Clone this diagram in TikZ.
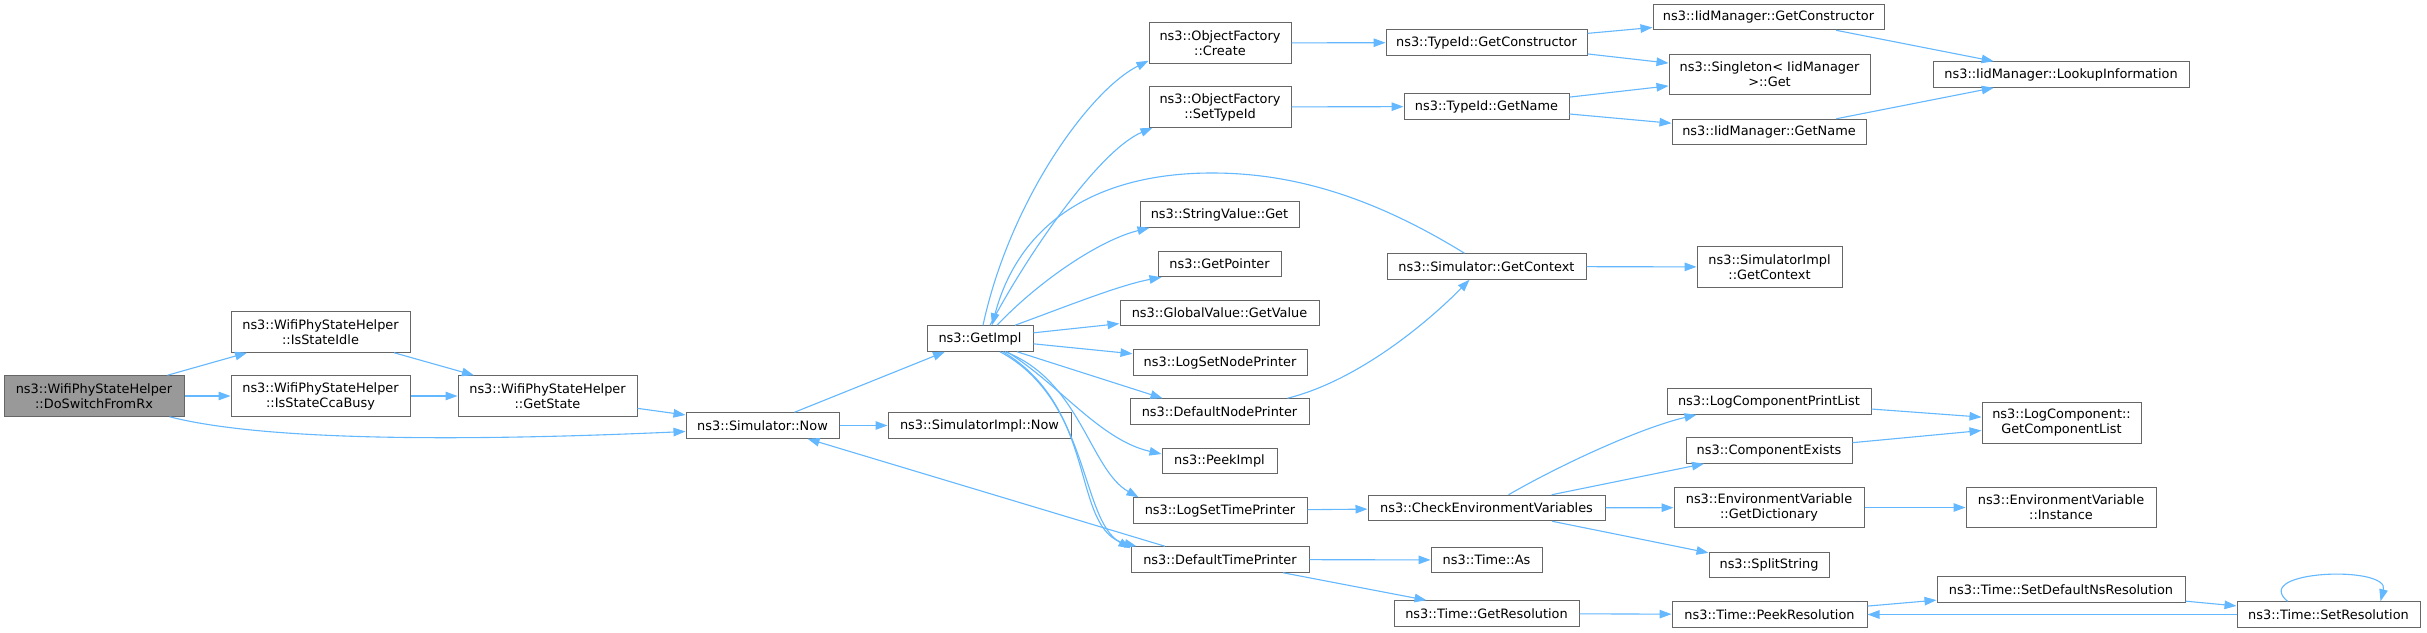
\documentclass[tikz,border=0pt]{standalone}
\usepackage{fontspec}
\setmainfont{DejaVu Sans}
\usepackage{tikz}
\usetikzlibrary{arrows.meta}
\definecolor{boxedge}{HTML}{666666}
\definecolor{curgray}{HTML}{999999}
\definecolor{calledge}{HTML}{63B8FF}
\begin{document}
\begin{tikzpicture}[x=1pt,y=-1pt]
\tikzset{fn/.style={draw=boxedge, fill=white, line width=1pt, minimum height=25.5pt, inner sep=2pt, align=center, font=\fontsize{12.9}{15}\selectfont}}
\tikzset{fn2/.style={fn, minimum height=40.5pt}}
\tikzset{cur/.style={fill=curgray}}
\tikzset{call/.style={draw=calledge, line width=1.1pt, -{Triangle[length=12pt,width=8.5pt]}}}
\useasboundingbox[fill=white] (0,0) rectangle (2427,632);
\node[fn2, cur, minimum width=180pt] (rx) at (94,396) {ns3::WifiPhyStateHelper\\::DoSwitchFromRx};
\node[fn2, minimum width=179pt] (idle) at (320.5,332) {ns3::WifiPhyStateHelper\\::IsStateIdle};
\node[fn2, minimum width=179pt] (cca) at (320.5,396) {ns3::WifiPhyStateHelper\\::IsStateCcaBusy};
\node[fn2, minimum width=179pt] (getstate) at (547.5,396) {ns3::WifiPhyStateHelper\\::GetState};
\node[fn, minimum width=153pt] (now) at (762.5,425.5) {ns3::Simulator::Now};
\node[fn, minimum width=183pt] (implnow) at (979.5,425.5) {ns3::SimulatorImpl::Now};
\node[fn, minimum width=106pt] (getimpl) at (980,338.5) {ns3::GetImpl};
\node[fn2, minimum width=142pt] (create) at (1220,43) {ns3::ObjectFactory\\::Create};
\node[fn2, minimum width=142pt] (settype) at (1220,107) {ns3::ObjectFactory\\::SetTypeId};
\node[fn, minimum width=159pt] (strget) at (1219.5,214.5) {ns3::StringValue::Get};
\node[fn, minimum width=123pt] (getptr) at (1219.5,264) {ns3::GetPointer};
\node[fn, minimum width=199pt] (gvget) at (1219.5,313) {ns3::GlobalValue::GetValue};
\node[fn, minimum width=174pt] (lsnp) at (1220,362.5) {ns3::LogSetNodePrinter};
\node[fn, minimum width=179pt] (dnp) at (1219.5,411.5) {ns3::DefaultNodePrinter};
\node[fn, minimum width=115pt] (peek) at (1219.5,461) {ns3::PeekImpl};
\node[fn, minimum width=174pt] (lstp) at (1220,510.5) {ns3::LogSetTimePrinter};
\node[fn, minimum width=178pt] (dtp) at (1220,559.5) {ns3::DefaultTimePrinter};
\node[fn, minimum width=201pt] (tgetctor) at (1486.5,42.5) {ns3::TypeId::GetConstructor};
\node[fn, minimum width=165pt] (tgetname) at (1486.5,106.5) {ns3::TypeId::GetName};
\node[fn, minimum width=199pt] (simctx) at (1486.5,266.5) {ns3::Simulator::GetContext};
\node[fn, minimum width=237pt] (cev) at (1486.5,508) {ns3::CheckEnvironmentVariables};
\node[fn, minimum width=111pt] (tas) at (1486.5,560) {ns3::Time::As};
\node[fn, minimum width=185pt] (tgetres) at (1486.5,613.5) {ns3::Time::GetResolution};
\node[fn, minimum width=231pt] (igetctor) at (1768.5,17) {ns3::IidManager::GetConstructor};
\node[fn2, minimum width=201pt] (single) at (1769.5,74.5) {ns3::Singleton< IidManager\\ >::Get};
\node[fn, minimum width=194pt] (igetname) at (1769,132) {ns3::IidManager::GetName};
\node[fn2, minimum width=145pt] (implctx) at (1769.5,267) {ns3::SimulatorImpl\\::GetContext};
\node[fn, minimum width=204pt] (lcpl) at (1769,401.5) {ns3::LogComponentPrintList};
\node[fn, minimum width=166pt] (cexists) at (1769,450.5) {ns3::ComponentExists};
\node[fn2, minimum width=190pt] (getdict) at (1769,507.5) {ns3::EnvironmentVariable\\::GetDictionary};
\node[fn, minimum width=120pt] (split) at (1769,565) {ns3::SplitString};
\node[fn, minimum width=195pt] (peekres) at (1769.5,614.5) {ns3::Time::PeekResolution};
\node[fn, minimum width=256pt] (lookup) at (2061,74.5) {ns3::IidManager::LookupInformation};
\node[fn2, minimum width=159pt] (getcl) at (2061.5,423) {ns3::LogComponent::\\GetComponentList};
\node[fn2, minimum width=190pt] (instance) at (2061,507.5) {ns3::EnvironmentVariable\\::Instance};
\node[fn, minimum width=248pt] (setdefns) at (2061,589.5) {ns3::Time::SetDefaultNsResolution};
\node[fn, minimum width=183pt] (setres) at (2328.5,614.5) {ns3::Time::SetResolution};
\draw[call] (rx) -- (idle);
\draw[call] (rx) -- (cca);
\draw[call] ([xshift=-15pt]rx.south east) .. controls (260,440) and (450,442) .. ([yshift=-6pt]now.west);
\draw[call] (idle) -- (getstate);
\draw[call] (cca) -- (getstate);
\draw[call] (getstate) -- (now);
\draw[call] ([xshift=32pt]now.north) -- ([xshift=-35pt]getimpl.south);
\draw[call] (now) -- (implnow);
\draw[call] ([xshift=3pt]getimpl.north) .. controls (1010,200) and (1090,90) .. ([yshift=3pt]create.south west);
\draw[call] ([xshift=10pt]getimpl.north) .. controls (1030,250) and (1100,150) .. ([xshift=4pt]settype.south west);
\draw[call] ([xshift=-22pt]simctx.north) .. controls (1370,195) and (1290,173) .. (1212,173) .. controls (1100,173) and (1020,220) .. ([xshift=12pt]getimpl.north);
\draw[call] ([xshift=17pt]getimpl.north) .. controls (1040,280) and (1100,240) .. ([xshift=10pt]strget.south west);
\draw[call] ([xshift=35pt]getimpl.north) .. controls (1070,305) and (1120,285) .. ([xshift=4pt]getptr.south west);
\draw[call] (getimpl) -- (gvget);
\draw[call] (getimpl) -- (lsnp);
\draw[call] ([xshift=37pt]getimpl.south) -- ([xshift=33pt]dnp.north west);
\draw[call] ([xshift=27pt]getimpl.south) .. controls (1060,385) and (1100,440) .. ([yshift=7pt]peek.west);
\draw[call] ([xshift=25pt]getimpl.south) .. controls (1080,380) and (1090,470) .. ([xshift=6pt]lstp.north west);
\draw[call] ([xshift=20pt]getimpl.south) .. controls (1090,400) and (1080,520) .. ([yshift=-2pt]dtp.north west);
\draw[call] ([xshift=23pt]getimpl.south) .. controls (1100,410) and (1070,530) .. ([xshift=6pt]dtp.north west);
\draw[call] ([xshift=-55pt]dtp.north) -- ([xshift=45pt]now.south);
\draw[call] ([xshift=68pt]dnp.north) .. controls (1360,380) and (1430,320) .. ([xshift=-17pt]simctx.south);
\draw[call] (lstp) -- (cev);
\draw[call] (dtp) -- (tas);
\draw[call] ([xshift=63pt]dtp.south) -- ([xshift=-60pt]tgetres.north);
\draw[call] (create) -- (tgetctor);
\draw[call] (settype) -- (tgetname);
\draw[call] (tgetctor) -- (igetctor);
\draw[call] (tgetctor) -- (single);
\draw[call] (tgetname) -- (single);
\draw[call] (tgetname) -- (igetname);
\draw[call] (igetctor) -- (lookup);
\draw[call] (igetname) -- (lookup);
\draw[call] (simctx) -- (implctx);
\draw[call] ([xshift=22pt]cev.north) .. controls (1560,465) and (1640,428) .. ([xshift=30pt]lcpl.south west);
\draw[call] (cev) -- (cexists);
\draw[call] (cev) -- (getdict);
\draw[call] (cev) -- (split);
\draw[call] (lcpl) -- (getcl);
\draw[call] (cexists) -- (getcl);
\draw[call] (getdict) -- (instance);
\draw[call] (tgetres) -- (peekres);
\draw[call] (peekres) -- (setdefns);
\draw[call] (setdefns) -- (setres);
\draw[call] (setres) -- (peekres);
\draw[call] ([xshift=-41pt]setres.north) .. controls (2250,570) and (2390,565) .. ([xshift=52pt]setres.north);
\end{tikzpicture}
\end{document}
